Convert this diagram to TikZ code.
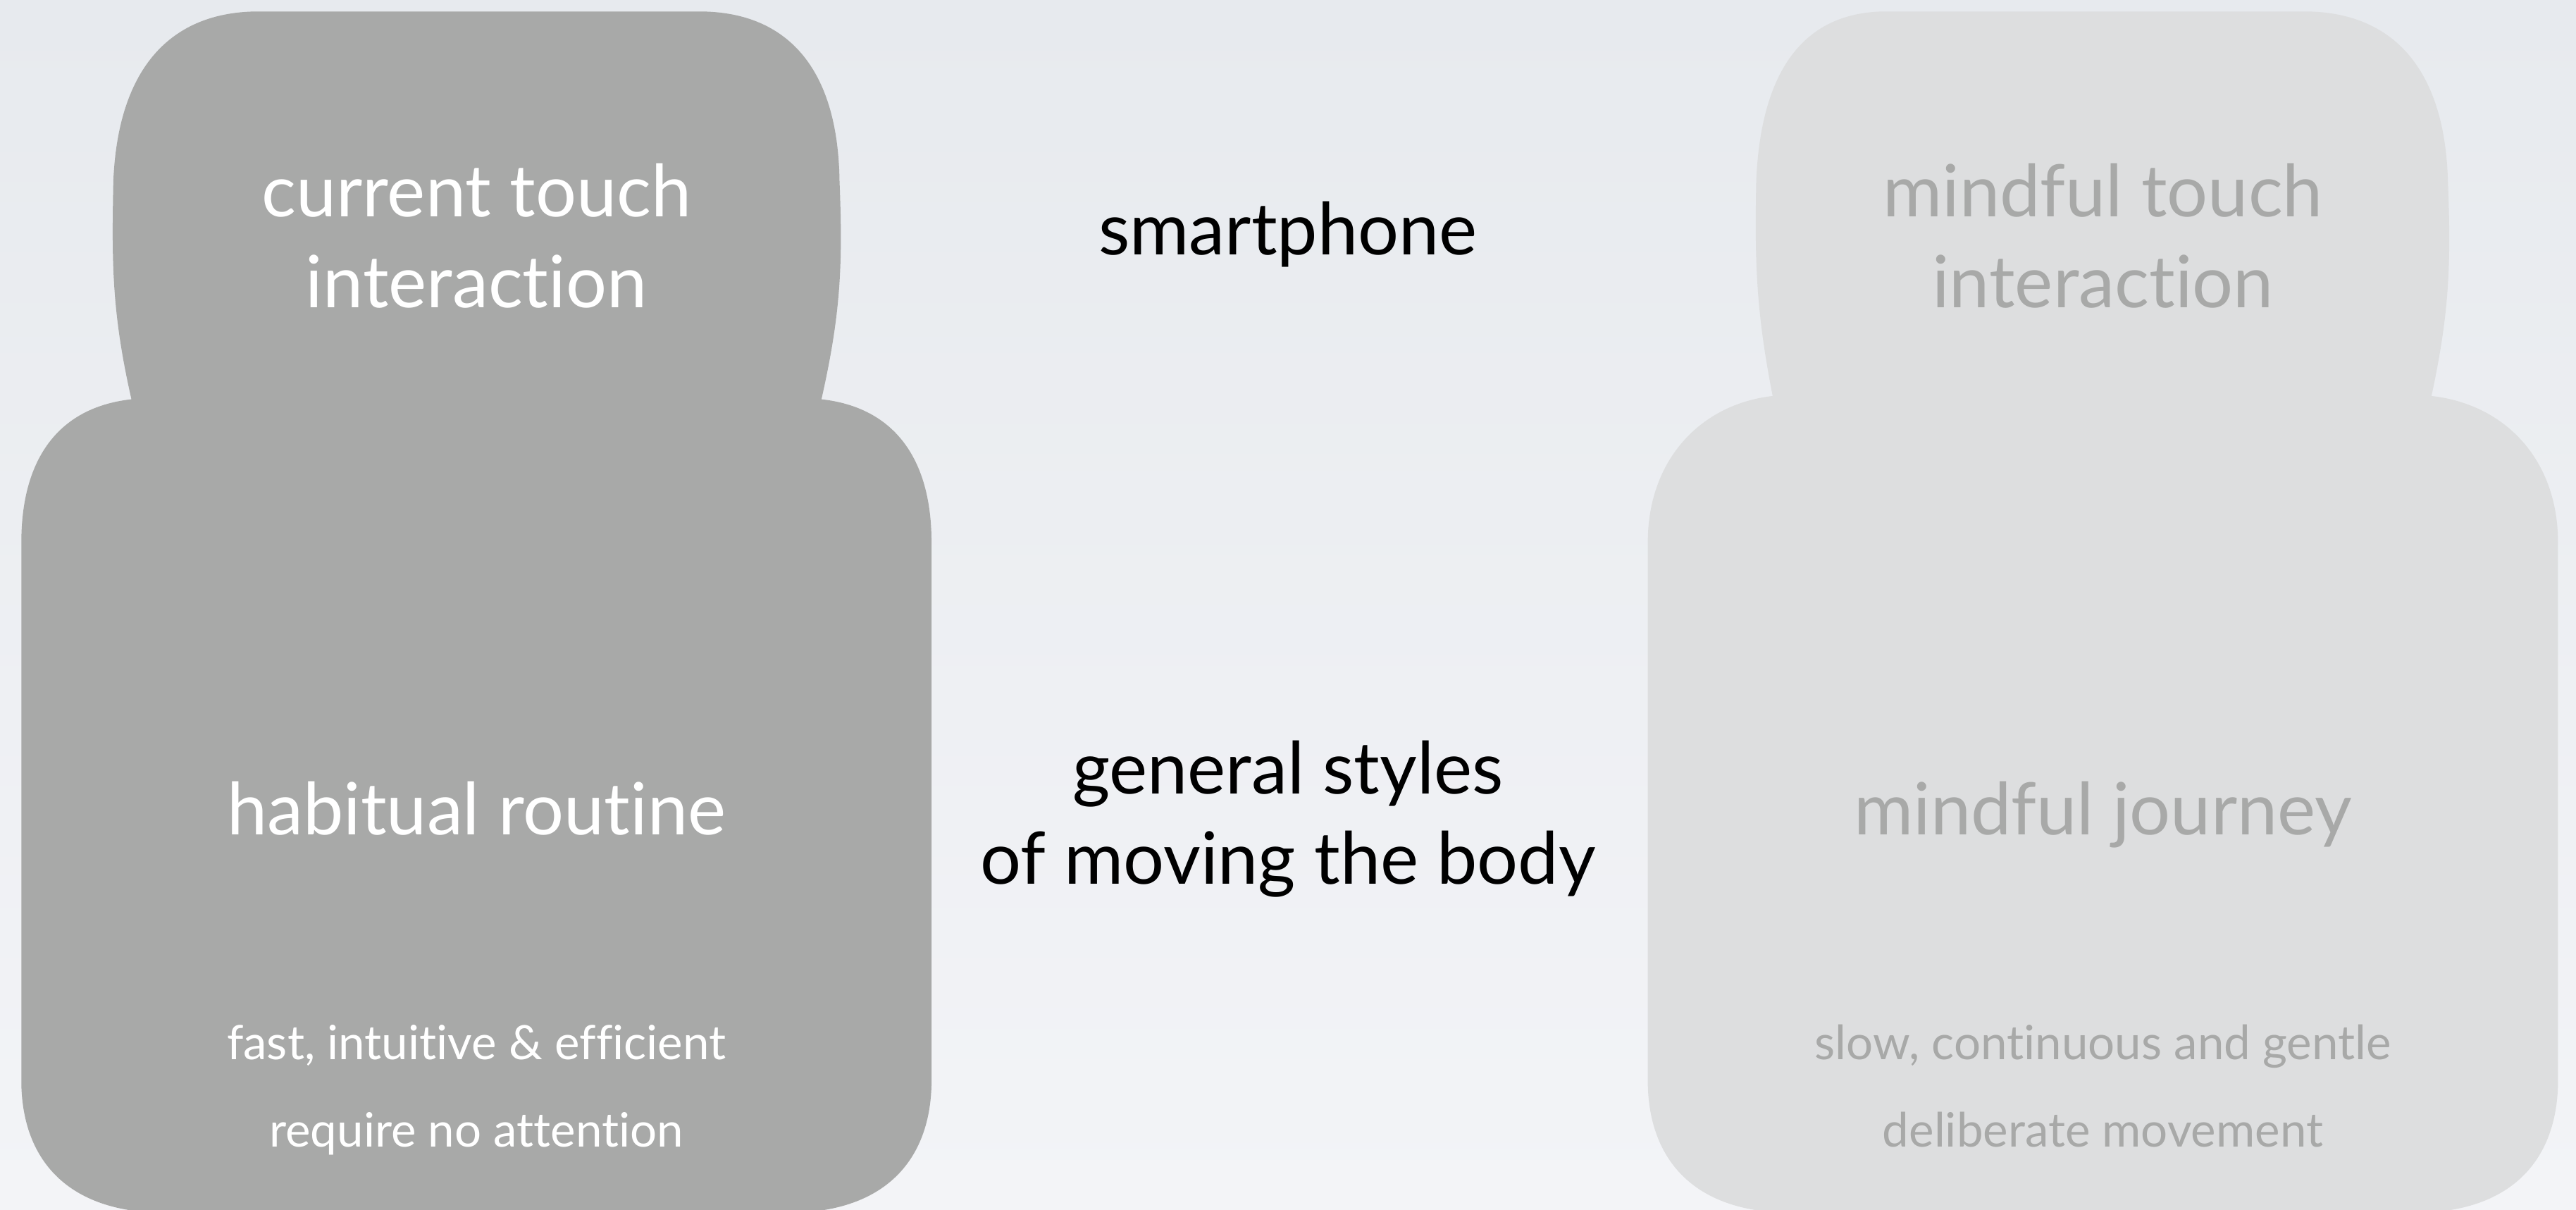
\documentclass[tikz,border=0pt]{standalone}
\usepackage{fontspec}
\setmainfont{Lato}[Ligatures=NoCommon]
\usepackage{tikz}
\usetikzlibrary{positioning}
\definecolor{bgtop}{HTML}{E7EAEE}
\definecolor{bgbottom}{HTML}{F3F4F7}
\definecolor{habitgray}{HTML}{A8A9A8}
\definecolor{mindgray}{HTML}{DDDEDF}
\definecolor{mindtext}{HTML}{A8A9A8}

\begin{document}
\begin{tikzpicture}[x=1cm,y=1cm,
  bigtext/.style={font=\fontsize{12.5}{15}\selectfont,anchor=base,inner sep=0pt},
  smalltext/.style={font=\fontsize{8.2}{10}\selectfont,anchor=base,inner sep=0pt}]
\path[use as bounding box] (0,-7.36) rectangle (15.68,0);
\shade[top color=bgtop,bottom color=bgbottom] (0,-7.36) rectangle (15.68,0);
% left figure: habitual routine (head and body in one outline)
\fill[habitgray] (0.80,-2.43) .. controls (0.68,-1.90) and (0.68,-1.60) .. (0.69,-1.10)
  .. controls (0.72,-0.40) and (1.05,-0.08) .. (1.55,-0.07) -- (4.28,-0.07)
  .. controls (4.78,-0.08) and (5.10,-0.40) .. (5.11,-1.10)
  .. controls (5.13,-1.60) and (5.12,-1.90) .. (5.00,-2.43)
  .. controls (5.45,-2.48) and (5.67,-2.80) .. (5.67,-3.30)
  -- (5.67,-6.60) .. controls (5.66,-7.05) and (5.40,-7.36) .. (4.85,-7.38) -- (0.95,-7.38)
  .. controls (0.40,-7.36) and (0.14,-7.05) .. (0.13,-6.60) -- (0.13,-3.30)
  .. controls (0.13,-2.80) and (0.35,-2.48) .. (0.80,-2.43) -- cycle;
% right figure: mindful journey
\fill[mindgray] (10.79,-2.41) .. controls (10.69,-1.90) and (10.68,-1.60) .. (10.69,-1.10)
  .. controls (10.72,-0.40) and (11.00,-0.08) .. (11.46,-0.07) -- (14.05,-0.07)
  .. controls (14.55,-0.08) and (14.88,-0.40) .. (14.90,-1.10)
  .. controls (14.92,-1.60) and (14.91,-1.90) .. (14.80,-2.41)
  .. controls (15.25,-2.46) and (15.57,-2.80) .. (15.57,-3.30)
  -- (15.57,-6.60) .. controls (15.56,-7.05) and (15.30,-7.36) .. (14.75,-7.38) -- (10.85,-7.38)
  .. controls (10.30,-7.36) and (10.04,-7.05) .. (10.03,-6.60) -- (10.03,-3.30)
  .. controls (10.03,-2.80) and (10.35,-2.46) .. (10.79,-2.41) -- cycle;
% labels
\node[bigtext,white] (curtouch) at (2.90,-1.32) {current touch};
\node[bigtext,white] (curinter) at (2.90,-1.87) {interaction};
\node[bigtext,white] (habit) at (2.90,-5.08) {habitual routine};
\node[smalltext,white] (fast) at (2.90,-6.45) {fast, intuitive \& efficient};
\node[smalltext,white] (noattn) at (2.90,-6.98) {require no attention};
\node[bigtext,black] (phone) at (7.84,-1.55) {smartphone};
\node[bigtext,black] (general) at (7.84,-4.83) {general styles};
\node[bigtext,black] (moving) at (7.84,-5.38) {of moving the body};
\node[bigtext,mindtext] (mindtouch) at (12.80,-1.32) {mindful touch};
\node[bigtext,mindtext] (mindinter) at (12.80,-1.87) {interaction};
\node[bigtext,mindtext] (journey) at (12.80,-5.08) {mindful journey};
\node[smalltext,mindtext] (slow) at (12.80,-6.45) {slow, continuous and gentle};
\node[smalltext,mindtext] (delib) at (12.80,-6.98) {deliberate movement};
\end{tikzpicture}
\end{document}
